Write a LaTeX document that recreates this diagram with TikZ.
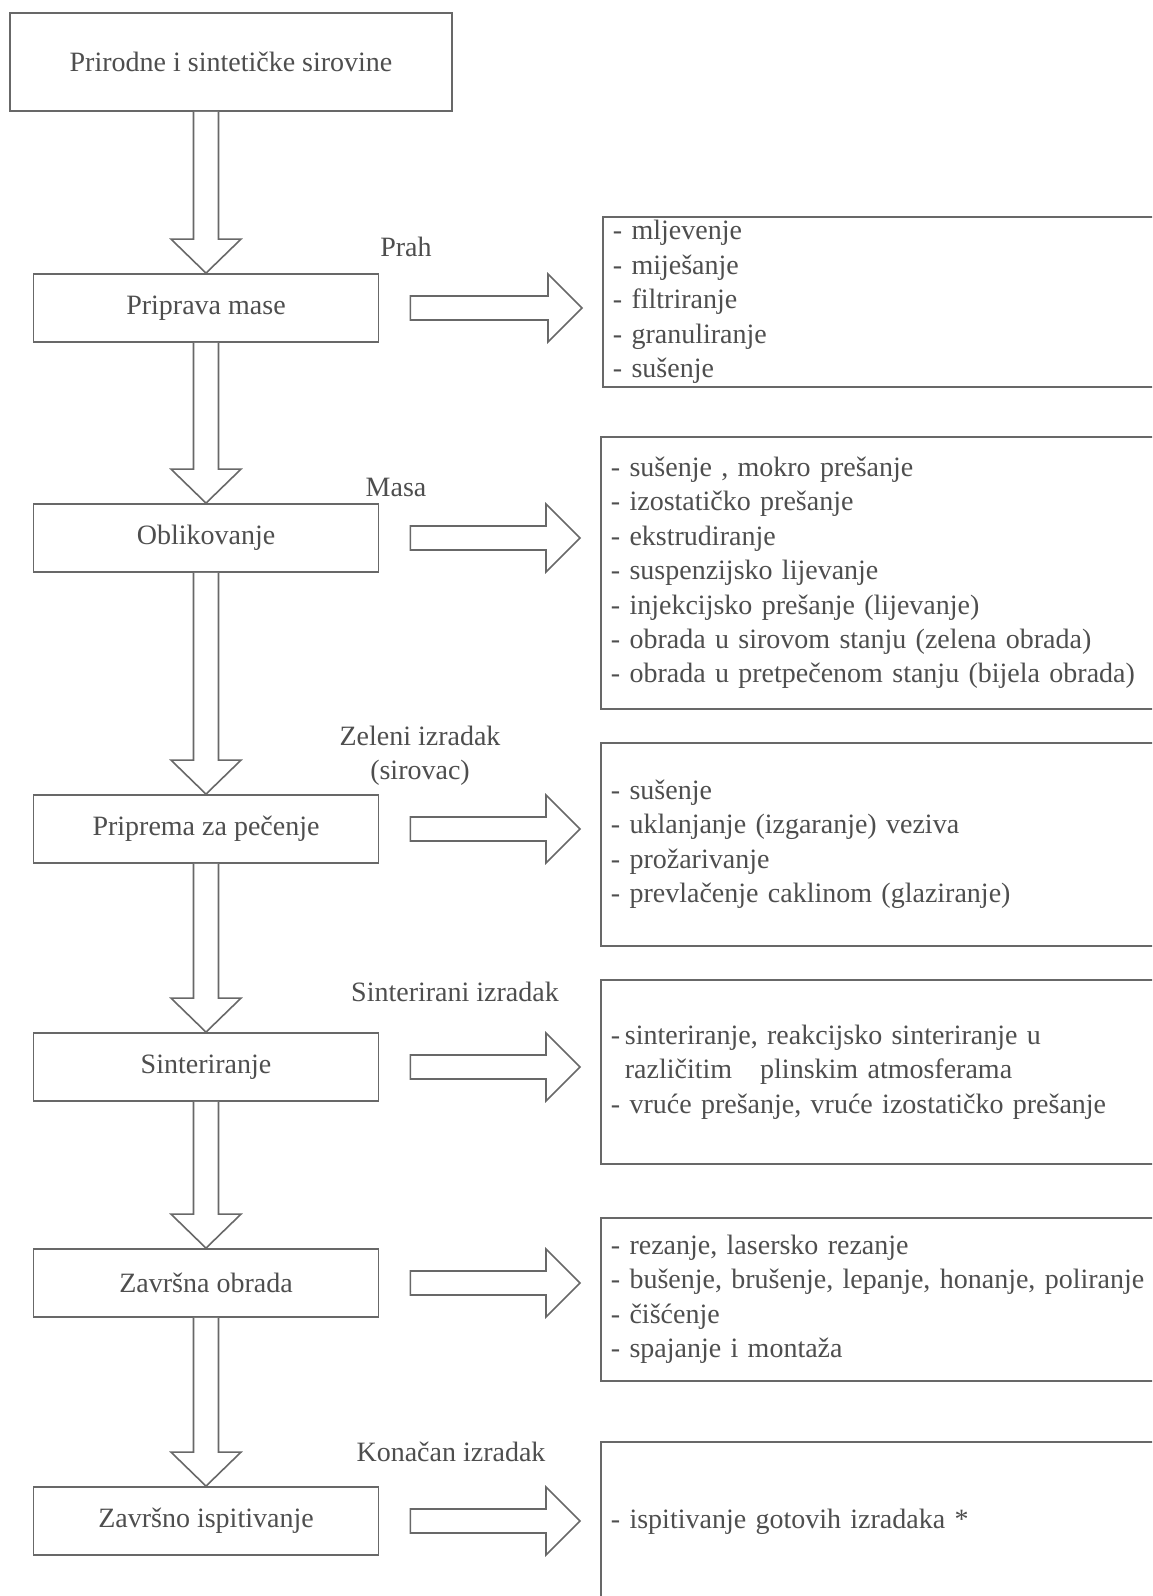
\documentclass[tikz,border=0pt]{standalone}
\usepackage{fontspec}
\setmainfont{Liberation Serif}
\definecolor{linegray}{RGB}{104, 104, 104}
\definecolor{textgray}{RGB}{78, 78, 78}
\usepackage{tikz}
\usetikzlibrary{positioning, calc}

\tikzset{
  stepbox/.style={draw=linegray, line width=1.8pt, minimum width=345pt, minimum height=68pt, inner sep=0pt},
  listbox/.style={draw=linegray, line width=1.8pt, anchor=north west, text width=560pt, align=left, inner xsep=10pt, inner ysep=0pt},
  stagelabel/.style={inner sep=0pt, align=center},
  blockarrow/.style={draw=linegray, line width=1.6pt, fill=white, line join=miter}
}

% block arrow down from #1 to #2, right from #1 to #2
\newcommand{\blockdown}[2]{%
  \draw[blockarrow] ($(#1.south -| #2.north)+(-12.5,0)$) -- ($(#2.north)+(-12.5,-34)$) -- ++(-22.5,0)
    -- (#2.north) -- ($(#2.north)+(35,-34)$) -- ++(-22.5,0) -- ($(#1.south -| #2.north)+(12.5,0)$);}
\newcommand{\blockright}[2]{%
  \draw[blockarrow] ($(#1.east)+(31,-12)$) -- ($(#1.east -| #2.west)+(-54,-12)$) -- ++(0,-22)
    -- ($(#1.east -| #2.west)+(-20,0)$) -- ($(#1.east -| #2.west)+(-54,34)$) -- ++(0,-22)
    -- ($(#1.east)+(31,12)$) -- cycle;}

\begin{document}
\begin{tikzpicture}[x=1pt, y=-1pt, font=\fontsize{28}{34.4}\selectfont, text=textgray]
  \useasboundingbox (0,0) rectangle (1152,1596);
  \fill[white] (0,0) rectangle (1152,1596);
  \clip (0,0) rectangle (1152,1596);

  % left column
  \node[stepbox, minimum width=442pt, minimum height=98pt] (raw) at (231,62) {Prirodne i sintetičke sirovine};
  \node[stepbox] (mass) at (206,308) {Priprava mase};
  \node[stepbox] (shape) at (206,538) {Oblikovanje};
  \node[stepbox] (prefire) at (206,829) {Priprema za pečenje};
  \node[stepbox] (sinter) at (206,1067) {Sinteriranje};
  \node[stepbox] (finish) at (206,1283) {Završna obrada};
  \node[stepbox] (test) at (206,1521) {Završno ispitivanje};

  % intermediate products
  \node[stagelabel] (lprah) at (406,247) {Prah};
  \node[stagelabel] (lmasa) at (396,487) {Masa};
  \node[stagelabel] (lgreen) at (420,756) {Zeleni izradak\\(sirovac)};
  \node[stagelabel] (lsint) at (455,992) {Sinterirani izradak};
  \node[stagelabel] (lfinal) at (451,1452) {Konačan izradak};

  % right column
  \node[listbox, minimum height=170pt] (opsmass) at (602,216) {- mljevenje\\- miješanje\\- filtriranje\\- granuliranje\\- sušenje};
  \node[listbox, minimum height=272pt] (opsshape) at (600,436) {- sušenje , mokro prešanje\\- izostatičko prešanje\\- ekstrudiranje\\- suspenzijsko lijevanje\\- injekcijsko prešanje (lijevanje)\\- obrada u sirovom stanju (zelena obrada)\\- obrada u pretpečenom stanju (bijela obrada)};
  \node[listbox, minimum height=203pt] (opsprefire) at (600,742) {- sušenje\\- uklanjanje (izgaranje) veziva\\- prožarivanje\\- prevlačenje caklinom (glaziranje)};
  \node[listbox, minimum height=184pt] (opssinter) at (600,979) {-\,sinteriranje, reakcijsko sinteriranje u\\\hspace*{14pt}različitim\quad plinskim atmosferama\\- vruće prešanje, vruće izostatičko prešanje};
  \node[listbox, minimum height=163pt] (opsfinish) at (600,1217) {- rezanje, lasersko rezanje\\- bušenje, brušenje, lepanje, honanje, poliranje\\- čišćenje\\- spajanje i montaža};
  \node[listbox, minimum height=160pt] (opstest) at (600,1441) {- ispitivanje gotovih izradaka *};

  % arrows
  \blockdown{raw}{mass}
  \blockdown{mass}{shape}
  \blockdown{shape}{prefire}
  \blockdown{prefire}{sinter}
  \blockdown{sinter}{finish}
  \blockdown{finish}{test}
  \blockright{mass}{opsmass}
  \blockright{shape}{opsshape}
  \blockright{prefire}{opsprefire}
  \blockright{sinter}{opssinter}
  \blockright{finish}{opsfinish}
  \blockright{test}{opstest}
\end{tikzpicture}
\end{document}
